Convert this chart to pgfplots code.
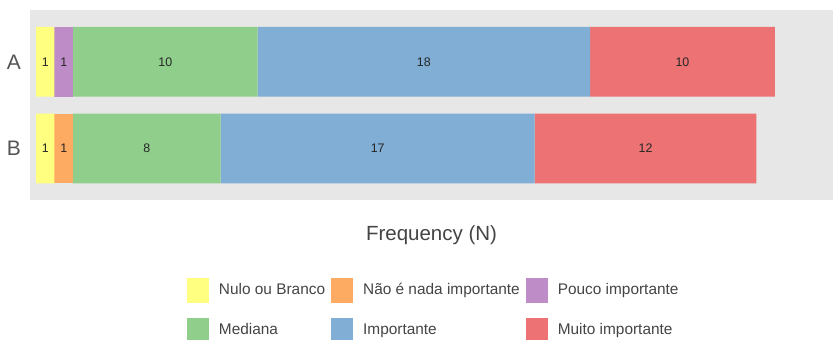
\documentclass[border=0pt]{standalone}
\usepackage{fontspec}
\setmainfont{Liberation Sans}
\usepackage{pgfplots}
\pgfplotsset{compat=1.18}
\definecolor{cyel}{RGB}{255,255,128}
\definecolor{cora}{RGB}{253,170,98}
\definecolor{cpur}{RGB}{190,140,198}
\definecolor{cgrn}{RGB}{144,206,140}
\definecolor{cblu}{RGB}{128,174,212}
\definecolor{cred}{RGB}{236,114,116}
\definecolor{panel}{RGB}{231,231,231}
\definecolor{txt}{RGB}{68,68,68}
\definecolor{tick}{RGB}{85,85,85}
\pgfplotsset{seg/.style={fill=#1, draw=none,
  legend image code/.code={\fill[fill=#1] (0pt,-6.25pt) rectangle (11pt,6.25pt); \path (15pt,0pt);}}}
\begin{document}
\begin{tikzpicture}
\path[use as bounding box] (0,0) rectangle (416.5pt,170pt);
\begin{axis}[at={(15pt,70pt)}, anchor=south west, scale only axis,
  width=401.5pt, height=95pt,
  xbar stacked, bar width=0.805,
  xmin=-0.325, xmax=43.15, ymin=-0.594, ymax=1.598,
  ytick={0,1}, yticklabels={B,A}, xtick=\empty,
  axis line style={draw=none}, major tick length=0pt,
  axis background/.style={fill=panel},
  yticklabel style={font=\fontsize{10.5}{12}\selectfont, text=tick, xshift=-1pt},
  xlabel={Frequency (N)},
  xlabel style={at={(axis description cs:0.5,0)}, anchor=center, yshift=-17.5pt,
    font=\fontsize{10.25}{12}\selectfont, text=txt},
  legend columns=3,
  legend cell align=left,
  legend style={draw=none, fill=none, inner sep=0pt, outer sep=0pt,
    at={(axis description cs:0.1955,-0.41)}, anchor=north west,
    column sep=0pt, row sep=7.5pt,
    /tikz/every even column/.append style={column sep=2pt},
    nodes={inner sep=1pt},
    font=\fontsize{7.7}{9.2}\selectfont, text=txt}]
\addplot[seg=cyel] coordinates {(1,1) (1,0)};
\addlegendentry{Nulo ou Branco}
\addplot[seg=cora] coordinates {(0,1) (1,0)};
\addlegendentry{Não é nada importante}
\addplot[seg=cpur] coordinates {(1,1) (0,0)};
\addlegendentry{Pouco importante}
\addplot[seg=cgrn] coordinates {(10,1) (8,0)};
\addlegendentry{Mediana}
\addplot[seg=cblu] coordinates {(18,1) (17,0)};
\addlegendentry{Importante}
\addplot[seg=cred] coordinates {(10,1) (12,0)};
\addlegendentry{Muito importante}
\end{axis}
\begin{axis}[at={(15pt,70pt)}, anchor=south west, scale only axis,
  width=401.5pt, height=95pt,
  xmin=-0.325, xmax=43.15, ymin=-0.594, ymax=1.598,
  hide axis, point meta=explicit symbolic,
  nodes near coords, nodes near coords align=center,
  every node near coord/.append style={font=\fontsize{6.2}{7}\selectfont, text=black!85, anchor=center}]
\addplot[only marks, mark=none, draw=none] coordinates {
  (0.5,1) [1] (1.5,1) [1] (7,1) [10] (21,1) [18] (35,1) [10]
  (0.5,0) [1] (1.5,0) [1] (6,0) [8] (18.5,0) [17] (33,0) [12]};
\end{axis}
\end{tikzpicture}
\end{document}
